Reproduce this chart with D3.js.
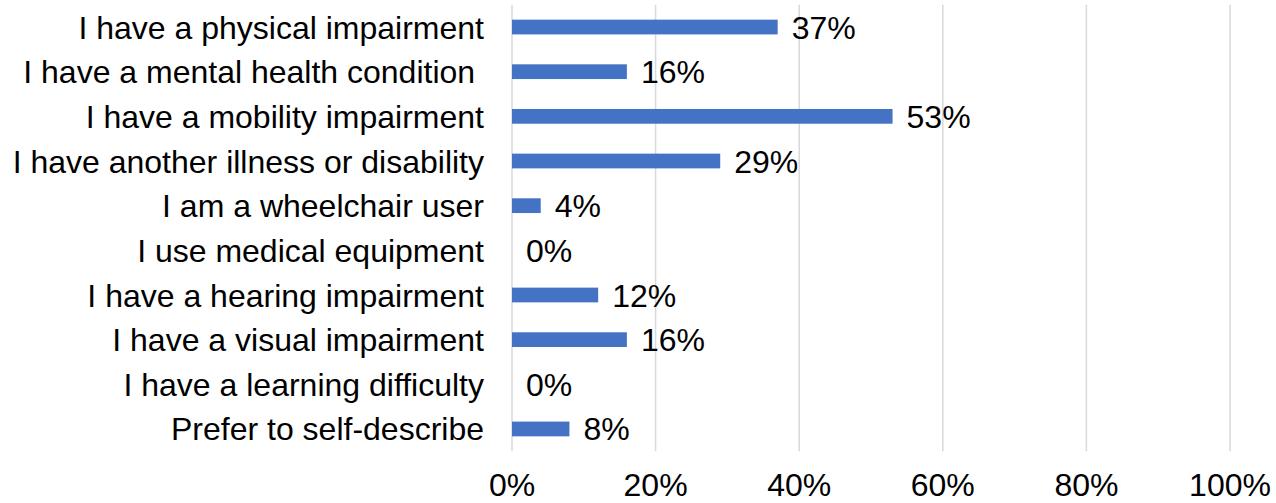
<!DOCTYPE html>
<html><head><meta charset="utf-8">
<script src="https://cdn.jsdelivr.net/npm/d3@7"></script>
<style>body{margin:0;background:#fff}svg text{font-family:"Liberation Sans",Arial,sans-serif;white-space:pre}</style>
</head><body><svg id="c" width="1276" height="503"></svg>
<script>
const categories = ["I have a physical impairment","I have a mental health condition ","I have a mobility impairment","I have another illness or disability","I am a wheelchair user","I use medical equipment","I have a hearing impairment","I have a visual impairment","I have a learning difficulty","Prefer to self-describe"];
const values = [37,16,53,29,4,0,12,16,0,8];
const tickValues = [0,20,40,60,80,100];
const tickLabels = ["0%","20%","40%","60%","80%","100%"];

const svg = d3.select("#c");
const x = d3.scaleLinear().domain([0,100]).range([512,1230]);
const y = d3.scaleBand().domain(categories).range([4.7,451.3]).paddingInner(0.67).paddingOuter(0.335);
const fs = 32;

svg.append("g").selectAll("line").data(tickValues).join("line")
  .attr("x1",d=>x(d)).attr("x2",d=>x(d)).attr("y1",4.7).attr("y2",451.3)
  .attr("stroke","#d9d9d9").attr("stroke-width",1.5);

svg.append("g").selectAll("rect").data(values).join("rect")
  .attr("x",x(0)).attr("y",(d,i)=>y(categories[i])).attr("width",d=>x(d)-x(0)).attr("height",y.bandwidth())
  .attr("fill","#4472C4");

svg.append("g").selectAll("text").data(values).join("text")
  .attr("x",d=>x(d)+14).attr("y",(d,i)=>y(categories[i])+y.bandwidth()/2).attr("dy","0.36em")
  .attr("font-size",fs).attr("fill","#000").text(d=>d+"%");

svg.append("g").selectAll("text").data(categories).join("text")
  .attr("x",484).attr("y",d=>y(d)+y.bandwidth()/2).attr("dy","0.36em").attr("text-anchor","end")
  .attr("font-size",fs).attr("fill","#000").text(d=>d);

svg.append("g").selectAll("text").data(tickValues).join("text")
  .attr("x",d=>x(d)).attr("y",496).attr("text-anchor","middle")
  .attr("font-size",fs).attr("fill","#000").text((d,i)=>tickLabels[i]);
</script></body></html>
